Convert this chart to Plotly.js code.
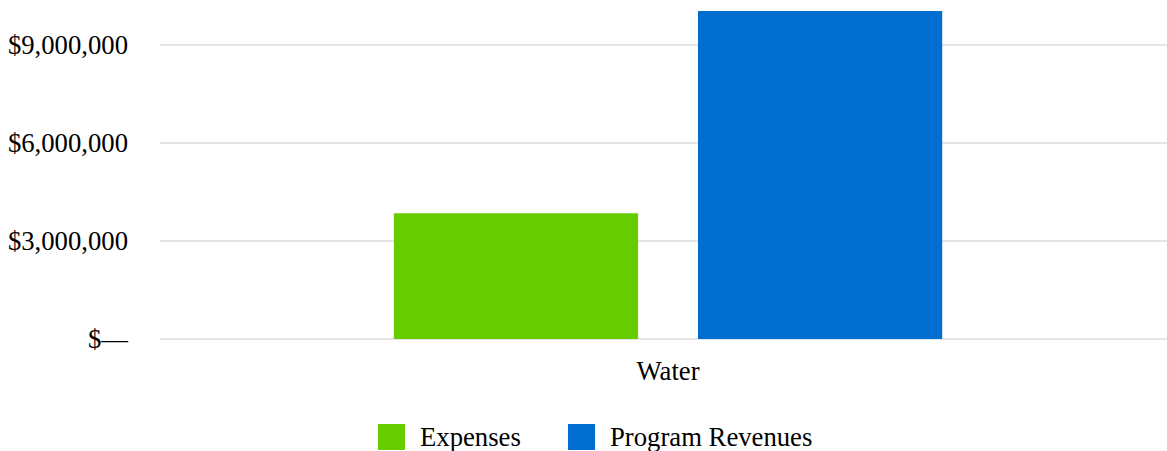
<!DOCTYPE html>
<html>
<head>
<meta charset="utf-8">
<script src="https://cdn.plot.ly/plotly-3.0.1.min.js"></script>
<style>html,body{margin:0;padding:0;background:#fff;}#chart{width:1167px;height:451px;}</style>
</head>
<body>
<div id="chart"></div>
<script>
const categories = ["Water"];
const seriesNames = ["Expenses", "Program Revenues"];
const expenses = [3850000];
const programRevenues = [10040000];
const tickValues = [0, 3000000, 6000000, 9000000];
const tickLabels = ["$\u2014", "$3,000,000", "$6,000,000", "$9,000,000"];
const colors = ["#66cc00", "#006dd1"];

const FONT = "Liberation Serif, Times New Roman, serif";
const FS = 26.7;

const traces = [
  {type: "bar", name: seriesNames[0], x: categories, y: expenses, marker: {color: colors[0]}, showlegend: false, hoverinfo: "skip"},
  {type: "bar", name: seriesNames[1], x: categories, y: programRevenues, marker: {color: colors[1]}, showlegend: false, hoverinfo: "skip"}
];

const L = 160, T = 5, B = 112, W = 1167, H = 451;
const pw = W - L, ph = H - T - B;
const px = X => (X - L) / pw;
const py = Y => (H - B - Y) / ph;

const shapes = [
  {type: "rect", xref: "paper", yref: "paper", x0: px(378), x1: px(405), y0: py(450), y1: py(424), fillcolor: colors[0], line: {width: 0}},
  {type: "rect", xref: "paper", yref: "paper", x0: px(568), x1: px(595), y0: py(450), y1: py(424), fillcolor: colors[1], line: {width: 0}}
];
const annotations = [
  {xref: "paper", yref: "paper", x: px(418), y: py(437), xanchor: "left", yanchor: "middle", text: seriesNames[0], showarrow: false, font: {family: FONT, size: FS, color: "#000"}},
  {xref: "paper", yref: "paper", x: px(608), y: py(437), xanchor: "left", yanchor: "middle", text: seriesNames[1], showarrow: false, font: {family: FONT, size: FS, color: "#000"}}
];

const layout = {
  width: W, height: H,
  margin: {l: L, r: 0, t: T, b: B, pad: 0},
  paper_bgcolor: "#fff", plot_bgcolor: "#fff",
  barmode: "group", bargap: 0.396, bargroupgap: 0.197,
  font: {family: FONT, size: FS, color: "#000"},
  showlegend: false,
  xaxis: {type: "category", range: [-0.5045, 0.4955], showgrid: false, zeroline: false, showline: false, ticks: "", ticklabelstandoff: 13, tickfont: {family: FONT, size: FS, color: "#000"}},
  yaxis: {range: [0, 10220000], tickmode: "array", tickvals: tickValues, ticktext: tickLabels, showgrid: true, gridcolor: "#e5e5e5", gridwidth: 2, zeroline: true, zerolinecolor: "#e5e5e5", zerolinewidth: 2, showline: false, ticks: "", ticklabelstandoff: 31, tickfont: {family: FONT, size: FS, color: "#000"}},
  shapes: shapes,
  annotations: annotations
};

Plotly.newPlot("chart", traces, layout, {displayModeBar: false, staticPlot: true});
</script>
</body>
</html>
